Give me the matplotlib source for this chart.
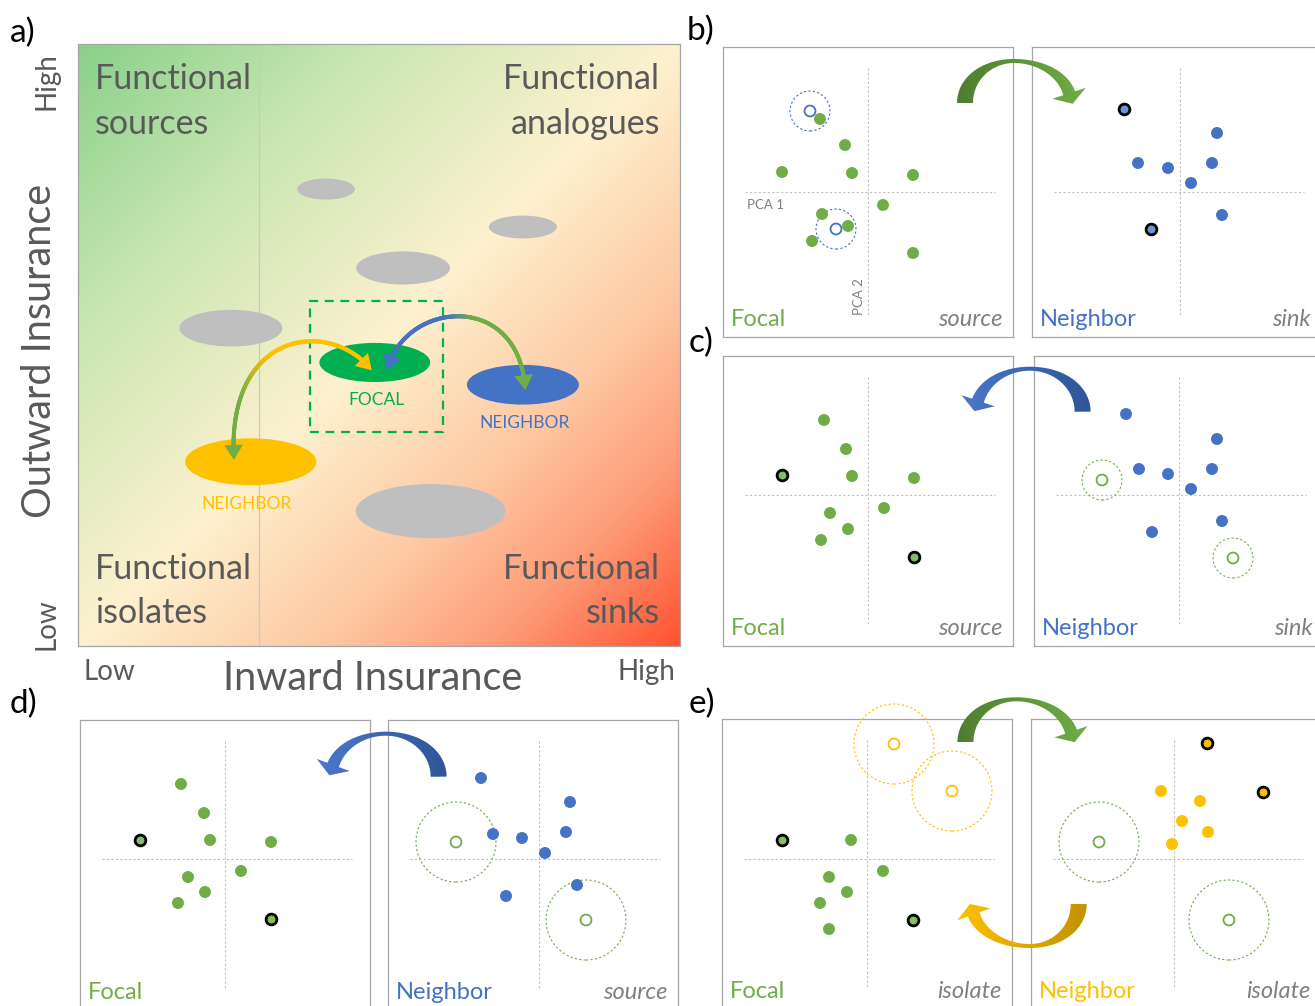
import numpy as np
import matplotlib
matplotlib.use("Agg")
import matplotlib.pyplot as plt
from matplotlib.patches import Ellipse, Rectangle, Circle, Polygon
from matplotlib.collections import LineCollection
from matplotlib.colors import LinearSegmentedColormap, to_rgb

plt.rcParams['font.family'] = ['Lato', 'DejaVu Sans']

W, H = 1315, 1006
GREEN = '#70ad47'
BLUE = '#4472c4'
YELLOW = '#ffc000'
FOCAL_GREEN = '#00b050'
TXT = '#595959'
LIGHT_TXT = '#808080'
EDGE = '#a6a6a6'

# ---- a) insurance space, positions as fractions of each axis ----
blob_x = [0.412, 0.739, 0.540, 0.254, 0.586]
blob_y = [0.759, 0.696, 0.628, 0.528, 0.224]
blob_w = [0.096, 0.113, 0.156, 0.171, 0.249]
blob_h = [0.035, 0.038, 0.055, 0.061, 0.090]

focal_xy, focal_wh = (0.493, 0.471), (0.184, 0.065)
nb_blue_xy, nb_blue_wh = (0.739, 0.434), (0.186, 0.066)
nb_yellow_xy, nb_yellow_wh = (0.287, 0.306), (0.218, 0.078)

quadrant_labels = [
    ('Functional', 'sources', 0.028, 'left', 0.925, 0.850),
    ('Functional', 'analogues', 0.967, 'right', 0.925, 0.850),
    ('Functional', 'isolates', 0.028, 'left', 0.111, 0.038),
    ('Functional', 'sinks', 0.967, 'right', 0.111, 0.038),
]

# ---- PCA panels: offsets from the PCA origin ----
# b) focal = source, neighbour = sink
b_focal_x = [-48, -23, -86, -16, 45, 15, -46, -20, -56, 45]
b_focal_y = [73, 47, 20, 19, 17, -13, -22, -34, -49, -61]
b_import_x = [-58, -32]
b_import_y = [81, -37]
b_nb_x = [37, -42, -12, 32, 11, 42]
b_nb_y = [59, 29, 24, 29, 9, -23]
b_nb_key_x = [-56, -29]
b_nb_key_y = [83, -37]

# c) neighbour helps the focal community (sink neighbour)
c_focal_x = [-44, -22, -16, 46, 16, -38, -20, -47]
c_focal_y = [75, 46, 19, 17, -13, -18, -34, -45]
c_focal_key_x = [-86, 46]
c_focal_key_y = [20, -62]
c_nb_x = [-53, 38, -40, -11, 33, 12, 43, -27]
c_nb_y = [81, 56, 26, 21, 26, 6, -26, -37]
c_export_x = [-77, 54]
c_export_y = [15, -63]

# d) neighbour as source
d_focal_x = [-44, -21, -15, 46, 16, -37, -20, -47]
d_focal_y = [75, 46, 19, 17, -12, -18, -33, -44]
d_focal_key_x = [-85, 46]
d_focal_key_y = [19, -60]
d_nb_x = [-58, 31, -46, -17, 27, 6, 38, -33]
d_nb_y = [81, 57, 25, 21, 27, 6, -26, -37]
d_export_x = [-83, 47]
d_export_y = [17, -61]

# e) two isolates
e_focal_x = [-16, 16, -38, -20, -47, -38]
e_focal_y = [19, -12, -18, -33, -44, -70]
e_focal_key_x = [-85, 46]
e_focal_key_y = [19, -61]
e_import_x = [27, 85]
e_import_y = [115, 68]
e_nb_x = [-13, 26, 8, 34, -2]
e_nb_y = [68, 58, 38, 27, 15]
e_nb_key_x = [33, 89]
e_nb_key_y = [116, 67]
e_export_x = [-75, 55]
e_export_y = [17, -61]


def px_rect(left, top, w, h):
    return [left / W, 1 - (top + h) / H, w / W, h / H]


fig = plt.figure(figsize=(W / 100, H / 100), dpi=100)

# ================= panel a =================
ax = fig.add_axes(px_rect(78, 44, 602, 602))
bg = LinearSegmentedColormap.from_list('bg', [
    (0.0, '#8ad08c'), (0.25, '#cbe7b3'), (0.5, '#fdf1cf'),
    (0.7, '#fdc8a2'), (0.85, '#fd9a76'), (1.0, '#ff5331')])
gx, gy = np.meshgrid(np.linspace(0, 1, 400), np.linspace(0, 1, 400))
ax.imshow((gx + 1 - gy) / 2, cmap=bg, extent=(0, 1, 0, 1), origin='lower',
          aspect='auto', interpolation='bilinear', zorder=0)
ax.set_xlim(0, 1)
ax.set_ylim(0, 1)
ax.set_xticks([])
ax.set_yticks([])
for s in ax.spines.values():
    s.set_color(EDGE)
    s.set_linewidth(0.9)
ax.axvline(0.30, color='#c8c8c8', lw=0.9, zorder=1)

for x, y, w, h in zip(blob_x, blob_y, blob_w, blob_h):
    ax.add_patch(Ellipse((x, y), w, h, fc='#bfbfbf', ec='none', zorder=2))
ax.add_patch(Ellipse(focal_xy, *focal_wh, fc=FOCAL_GREEN, ec='none', zorder=3))
ax.add_patch(Ellipse(nb_blue_xy, *nb_blue_wh, fc=BLUE, ec='none', zorder=3))
ax.add_patch(Ellipse(nb_yellow_xy, *nb_yellow_wh, fc=YELLOW, ec='none', zorder=3))
ax.add_patch(Rectangle((0.385, 0.356), 0.222, 0.217, fill=False, ec=FOCAL_GREEN,
                       lw=1.6, ls=(0, (4, 3)), zorder=4))

ax.text(0.496, 0.400, 'FOCAL', color=FOCAL_GREEN, fontsize=12.5, ha='center', va='baseline', zorder=5)
ax.text(0.742, 0.362, 'NEIGHBOR', color=BLUE, fontsize=12.5, ha='center', va='baseline', zorder=5)
ax.text(0.280, 0.228, 'NEIGHBOR', color=YELLOW, fontsize=12.5, ha='center', va='baseline', zorder=5)

for l1, l2, x, ha, y1, y2 in quadrant_labels:
    ax.text(x, y1, l1, color=TXT, fontsize=24.5, ha=ha, va='baseline', zorder=5)
    ax.text(x, y2, l2, color=TXT, fontsize=24.5, ha=ha, va='baseline', zorder=5)


def bezier(p0, p1, p2, p3, n=300):
    t = np.linspace(0, 1, n)[:, None]
    pts = (1 - t) ** 3 * p0 + 3 * (1 - t) ** 2 * t * p1 + 3 * (1 - t) * t ** 2 * p2 + t ** 3 * p3
    return pts, t.ravel()


def grad_link(ax, ctrl, c0, c1, t_a, t_b, head_len=0.025, head_w=0.031):
    pts, t = bezier(*[np.array(c, float) for c in ctrl])
    s = np.clip((t - t_a) / (t_b - t_a), 0, 1)
    s = s * s * (3 - 2 * s)
    r0, r1 = np.array(to_rgb(c0)), np.array(to_rgb(c1))
    cols = r0[None, :] * (1 - s[:, None]) + r1[None, :] * s[:, None]
    d = np.r_[0, np.cumsum(np.hypot(*np.diff(pts, axis=0).T))]
    keep = (d > head_len * 0.6) & (d < d[-1] - head_len * 0.6)
    seg = np.stack([pts[:-1], pts[1:]], axis=1)
    m = keep[:-1] & keep[1:]
    ax.add_collection(LineCollection(seg[m], colors=cols[:-1][m], linewidths=2.9,
                                     capstyle='round', zorder=6))
    for tip, back, col in [(pts[0], pts[np.searchsorted(d, head_len)], cols[0]),
                           (pts[-1], pts[np.searchsorted(d, d[-1] - head_len)], cols[-1])]:
        u = tip - back
        u = u / np.hypot(*u)
        base = tip - u * head_len
        perp = np.array([-u[1], u[0]])
        ax.add_patch(Polygon([tip, base + perp * head_w / 2, base - perp * head_w / 2],
                             closed=True, fc=col, ec='none', zorder=7))


# focal <-> yellow neighbour, focal <-> blue neighbour
grad_link(ax, [(0.259, 0.309), (0.246, 0.525), (0.419, 0.545), (0.488, 0.458)],
          GREEN, YELLOW, 0.15, 0.45)
grad_link(ax, [(0.513, 0.458), (0.543, 0.575), (0.734, 0.591), (0.743, 0.425)],
          BLUE, GREEN, 0.40, 0.60)


# ================= PCA boxes =================
def pca_box(left, top, cx, cy, tag, tag_color, mode):
    a = fig.add_axes(px_rect(left, top, 290, 290))
    a.set_xlim(-cx, 290 - cx)
    a.set_ylim(-(290 - cy), cy)
    a.set_xticks([])
    a.set_yticks([])
    for s in a.spines.values():
        s.set_color(EDGE)
        s.set_linewidth(0.9)
    a.plot([22 - cx, 272 - cx], [0, 0], color='#bfbfbf', lw=0.8, ls=(0, (2, 2)), zorder=1)
    a.plot([0, 0], [cy - 21, cy - 269], color='#bfbfbf', lw=0.8, ls=(0, (2, 2)), zorder=1)
    a.text(8 - cx, cy - 279, tag, color=tag_color, fontsize=17, ha='left', va='baseline')
    a.text(279 - cx, cy - 279, mode, color=LIGHT_TXT, fontsize=17, style='italic',
           ha='right', va='baseline')
    return a


def dots(a, xs, ys, color):
    a.scatter(xs, ys, s=74, color=color, edgecolors='none', zorder=4)


def key_dots(a, xs, ys, color):
    a.scatter(xs, ys, s=60, color=color, edgecolors='black', linewidths=2.0, zorder=5)


def ghosts(a, xs, ys, color, r, clip=True):
    a.scatter(xs, ys, s=62, facecolors='none', edgecolors=color, linewidths=1.3, zorder=4)
    for x, y in zip(xs, ys):
        a.add_patch(Circle((x, y), r, fill=False, ec=color, lw=0.8, ls=(0, (2, 2)),
                           zorder=3, clip_on=clip))


GREEN_KEY = '#86bd63'
BLUE_KEY = '#6d93d6'

# b)
a = pca_box(723, 47, 145, 145, 'Focal', GREEN, 'source')
ghosts(a, b_import_x, b_import_y, BLUE, 20)
dots(a, b_focal_x, b_focal_y, GREEN)
a.text(-102, -13, 'PCA 1', color=LIGHT_TXT, fontsize=9.5, ha='center', va='center')
a.text(-9, -105, 'PCA 2', color=LIGHT_TXT, fontsize=9.5, ha='center', va='center', rotation=90)
a = pca_box(1032, 47, 148, 145, 'Neighbor', BLUE, 'sink')
dots(a, b_nb_x, b_nb_y, BLUE)
key_dots(a, b_nb_key_x, b_nb_key_y, BLUE_KEY)

# c)
a = pca_box(723, 356, 145, 139, 'Focal', GREEN, 'source')
dots(a, c_focal_x, c_focal_y, GREEN)
key_dots(a, c_focal_key_x, c_focal_key_y, GREEN_KEY)
a = pca_box(1034, 356, 145, 139, 'Neighbor', BLUE, 'sink')
ghosts(a, c_export_x, c_export_y, GREEN, 20)
dots(a, c_nb_x, c_nb_y, BLUE)

# d)
a = pca_box(80, 720, 145, 139, 'Focal', GREEN, '')
dots(a, d_focal_x, d_focal_y, GREEN)
key_dots(a, d_focal_key_x, d_focal_key_y, GREEN_KEY)
a = pca_box(388, 720, 151, 139, 'Neighbor', BLUE, 'source')
ghosts(a, d_export_x, d_export_y, GREEN, 40)
dots(a, d_nb_x, d_nb_y, BLUE)

# e)
a = pca_box(722, 719, 145, 140, 'Focal', GREEN, 'isolate')
ghosts(a, e_import_x, e_import_y, YELLOW, 40, clip=False)
dots(a, e_focal_x, e_focal_y, GREEN)
key_dots(a, e_focal_key_x, e_focal_key_y, GREEN_KEY)
a = pca_box(1031, 719, 143, 140, 'Neighbor', YELLOW, 'isolate')
ghosts(a, e_export_x, e_export_y, GREEN, 40)
dots(a, e_nb_x, e_nb_y, YELLOW)
key_dots(a, e_nb_key_x, e_nb_key_y, YELLOW)

# ================= overlay: labels and curved block arrows =================
ov = fig.add_axes([0, 0, 1, 1], zorder=10)
ov.set_xlim(0, W)
ov.set_ylim(H, 0)
ov.set_autoscale_on(False)
ov.axis('off')
ov.patch.set_alpha(0)


def block_arrow(cx, cy, rx_tail, rx_head, ry, side, up, th_end, c_tail, c_head):
    th = np.linspace(np.pi, th_end, 240)
    u, v = np.cos(th), np.sin(th)
    x = cx + side * np.where(u < 0, rx_tail, rx_head) * u
    y = cy - up * ry * v
    w = np.where(u < 0, 4 + 12 * u ** 2, 4 + 9 * u ** 2)
    tx, ty = np.gradient(x), np.gradient(y)
    n = np.hypot(tx, ty)
    tx, ty = tx / n, ty / n
    nx, ny = -ty, tx
    e1 = np.column_stack([x + nx * w / 2, y + ny * w / 2])
    e2 = np.column_stack([x - nx * w / 2, y - ny * w / 2])
    ex, ey = x[-1], y[-1]
    head = [(ex + nx[-1] * 17.5, ey + ny[-1] * 17.5),
            (ex + tx[-1] * 11, ey + ty[-1] * 11),
            (ex - nx[-1] * 17.5, ey - ny[-1] * 17.5)]
    verts = np.vstack([e1, head, e2[::-1]])
    poly = Polygon(verts, closed=True, fc='none', ec='none')
    ov.add_patch(poly)
    lo, hi = (c_tail, c_head) if side > 0 else (c_head, c_tail)
    cm = LinearSegmentedColormap.from_list('arrow', [lo, hi])
    im = ov.imshow(np.linspace(0, 1, 256)[None, :], cmap=cm,
                   extent=(verts[:, 0].min(), verts[:, 0].max(),
                           verts[:, 1].max(), verts[:, 1].min()),
                   aspect='auto', interpolation='bilinear', zorder=5)
    im.set_clip_path(poly)


block_arrow(1014, 103, 49, 56.7, 42, +1, +1, 0.233, '#4f7d30', '#70ad47')
block_arrow(1030, 411.7, 52.6, 53.8, 43, -1, +1, 0.258, '#2f5597', '#4a78cc')
block_arrow(386, 776.7, 52.6, 54.9, 43, -1, +1, 0.276, '#2f5597', '#4a78cc')
block_arrow(1016, 742.3, 50.6, 56.8, 43, +1, +1, 0.249, '#4f7d30', '#70ad47')
block_arrow(1030, 904, 48.7, 58.1, 42, -1, -1, 0.248, '#c29200', '#ffc000')

# axis titles of panel a
ov.text(40, 351, 'Outward Insurance', color=TXT, fontsize=28.5, rotation=90,
        ha='center', va='center')
ov.text(373, 690, 'Inward Insurance', color=TXT, fontsize=28.5, ha='center', va='baseline')
ov.text(47, 81, 'High', color=TXT, fontsize=20, rotation=90, ha='center', va='center')
ov.text(47, 624, 'Low', color=TXT, fontsize=20, rotation=90, ha='center', va='center')
ov.text(109, 680, 'Low', color=TXT, fontsize=20, ha='center', va='baseline')
ov.text(646, 680, 'High', color=TXT, fontsize=20, ha='center', va='baseline')

# panel letters
for lbl, x, y in [('a)', 10, 33), ('b)', 687, 31), ('c)', 689, 343),
                  ('d)', 10, 704), ('e)', 689, 704)]:
    ov.text(x, y, lbl, color='black', fontsize=24, ha='left', va='center')

fig.savefig('out.png', dpi=100)
